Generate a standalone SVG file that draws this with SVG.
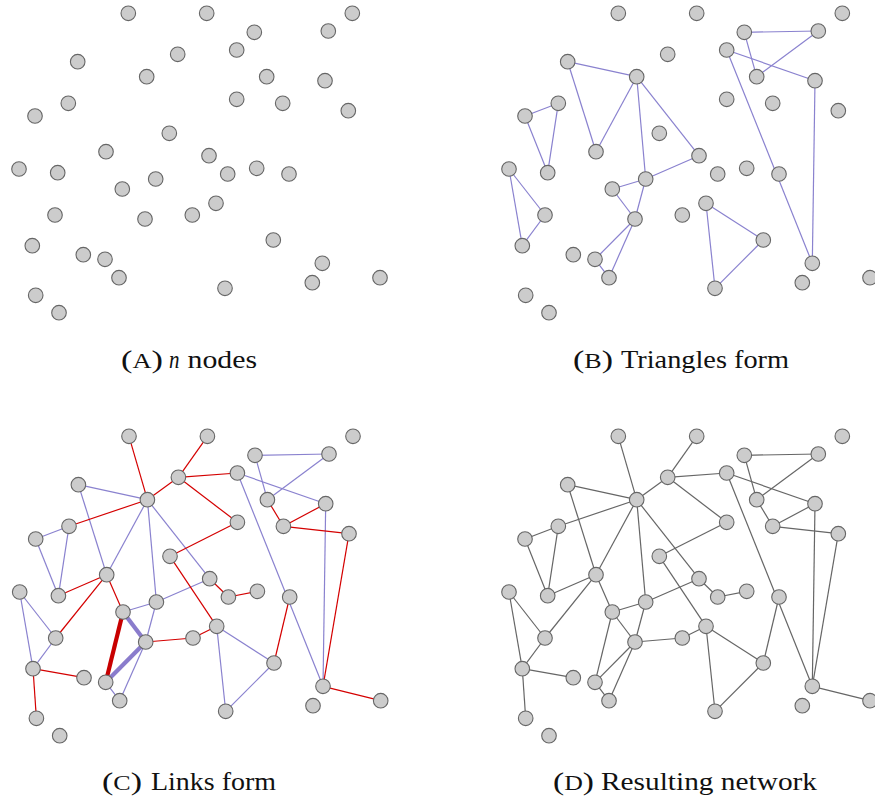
<svg xmlns="http://www.w3.org/2000/svg" width="875" height="803" viewBox="0 0 875 803">
<style>
.nd{fill:#cccccc;stroke:#666666;stroke-width:1.1}
.tri line{stroke:#8a82cf;stroke-width:1.2}
.lnk line{stroke:#d40000;stroke-width:1.2}
.net line{stroke:#666666;stroke-width:1.2}
line.thp{stroke:#8a7ccc;stroke-width:4.2}
line.thr{stroke:#c80000;stroke-width:4.2}
.cap{font-family:"Liberation Serif","DejaVu Serif",serif;font-size:26px;fill:#111}
.sc{font-size:20px}
</style>
<rect width="875" height="803" fill="#ffffff"/>

<!-- Panel A -->
<g id="panelA">
<g id="a-n1"><circle class="nd" cx="128.3" cy="13.3" r="7.3"/></g>
<g id="a-n2"><circle class="nd" cx="206.7" cy="13.3" r="7.3"/></g>
<g id="a-n3"><circle class="nd" cx="352.3" cy="13.3" r="7.3"/></g>
<g id="a-n4"><circle class="nd" cx="254.3" cy="32.3" r="7.3"/></g>
<g id="a-n5"><circle class="nd" cx="328.3" cy="31" r="7.3"/></g>
<g id="a-n6"><circle class="nd" cx="236.7" cy="50" r="7.3"/></g>
<g id="a-n7"><circle class="nd" cx="177.7" cy="54.3" r="7.3"/></g>
<g id="a-n8"><circle class="nd" cx="77.7" cy="61.7" r="7.3"/></g>
<g id="a-n9"><circle class="nd" cx="146.7" cy="76.7" r="7.3"/></g>
<g id="a-n10"><circle class="nd" cx="266.7" cy="76.7" r="7.3"/></g>
<g id="a-n11"><circle class="nd" cx="325" cy="80.7" r="7.3"/></g>
<g id="a-n12"><circle class="nd" cx="68.3" cy="103.3" r="7.3"/></g>
<g id="a-n13"><circle class="nd" cx="35" cy="116" r="7.3"/></g>
<g id="a-n14"><circle class="nd" cx="236.7" cy="99.3" r="7.3"/></g>
<g id="a-n15"><circle class="nd" cx="282.7" cy="103.3" r="7.3"/></g>
<g id="a-n16"><circle class="nd" cx="348.3" cy="110.7" r="7.3"/></g>
<g id="a-n17"><circle class="nd" cx="169.3" cy="133.3" r="7.3"/></g>
<g id="a-n18"><circle class="nd" cx="106" cy="151.7" r="7.3"/></g>
<g id="a-n19"><circle class="nd" cx="209" cy="155.7" r="7.3"/></g>
<g id="a-n20"><circle class="nd" cx="19" cy="169" r="7.3"/></g>
<g id="a-n21"><circle class="nd" cx="57.7" cy="172.7" r="7.3"/></g>
<g id="a-n22"><circle class="nd" cx="227.7" cy="174" r="7.3"/></g>
<g id="a-n23"><circle class="nd" cx="256.7" cy="168.3" r="7.3"/></g>
<g id="a-n24"><circle class="nd" cx="289" cy="174" r="7.3"/></g>
<g id="a-n25"><circle class="nd" cx="122.3" cy="189" r="7.3"/></g>
<g id="a-n26"><circle class="nd" cx="155.7" cy="179" r="7.3"/></g>
<g id="a-n27"><circle class="nd" cx="55" cy="215" r="7.3"/></g>
<g id="a-n28"><circle class="nd" cx="145" cy="219" r="7.3"/></g>
<g id="a-n29"><circle class="nd" cx="192.3" cy="215" r="7.3"/></g>
<g id="a-n30"><circle class="nd" cx="216" cy="203.3" r="7.3"/></g>
<g id="a-n31"><circle class="nd" cx="32.3" cy="245.7" r="7.3"/></g>
<g id="a-n32"><circle class="nd" cx="83.3" cy="254.7" r="7.3"/></g>
<g id="a-n33"><circle class="nd" cx="105" cy="259.3" r="7.3"/></g>
<g id="a-n34"><circle class="nd" cx="273.3" cy="240" r="7.3"/></g>
<g id="a-n35"><circle class="nd" cx="119" cy="277.7" r="7.3"/></g>
<g id="a-n36"><circle class="nd" cx="322.3" cy="263.3" r="7.3"/></g>
<g id="a-n37"><circle class="nd" cx="225" cy="288.3" r="7.3"/></g>
<g id="a-n38"><circle class="nd" cx="312.3" cy="282.7" r="7.3"/></g>
<g id="a-n39"><circle class="nd" cx="380" cy="277.7" r="7.3"/></g>
<g id="a-n40"><circle class="nd" cx="35.7" cy="295.3" r="7.3"/></g>
<g id="a-n41"><circle class="nd" cx="59" cy="312.7" r="7.3"/></g>
</g>

<!-- Panel B -->
<g id="panelB" transform="translate(490,0)">
<g id="b-edges" class="tri">
<line x1="77.7" y1="61.7" x2="146.7" y2="76.7"/>
<line x1="77.7" y1="61.7" x2="106" y2="151.7"/>
<line x1="146.7" y1="76.7" x2="106" y2="151.7"/>
<line x1="146.7" y1="76.7" x2="155.7" y2="179"/>
<line x1="146.7" y1="76.7" x2="209" y2="155.7"/>
<line x1="155.7" y1="179" x2="209" y2="155.7"/>
<line x1="68.3" y1="103.3" x2="35" y2="116"/>
<line x1="35" y1="116" x2="57.7" y2="172.7"/>
<line x1="68.3" y1="103.3" x2="57.7" y2="172.7"/>
<line x1="254.3" y1="32.3" x2="328.3" y2="31"/>
<line x1="254.3" y1="32.3" x2="266.7" y2="76.7"/>
<line x1="328.3" y1="31" x2="266.7" y2="76.7"/>
<line x1="236.7" y1="50" x2="325" y2="80.7"/>
<line x1="236.7" y1="50" x2="322.3" y2="263.3"/>
<line x1="325" y1="80.7" x2="322.3" y2="263.3"/>
<line x1="19" y1="169" x2="55" y2="215"/>
<line x1="19" y1="169" x2="32.3" y2="245.7"/>
<line x1="55" y1="215" x2="32.3" y2="245.7"/>
<line x1="122.3" y1="189" x2="155.7" y2="179"/>
<line x1="122.3" y1="189" x2="145" y2="219"/>
<line x1="155.7" y1="179" x2="145" y2="219"/>
<line x1="145" y1="219" x2="105" y2="259.3"/>
<line x1="145" y1="219" x2="119" y2="277.7"/>
<line x1="105" y1="259.3" x2="119" y2="277.7"/>
<line x1="216" y1="203.3" x2="273.3" y2="240"/>
<line x1="216" y1="203.3" x2="225" y2="288.3"/>
<line x1="273.3" y1="240" x2="225" y2="288.3"/>
</g>
<g id="b-n1"><circle class="nd" cx="128.3" cy="13.3" r="7.3"/></g>
<g id="b-n2"><circle class="nd" cx="206.7" cy="13.3" r="7.3"/></g>
<g id="b-n3"><circle class="nd" cx="352.3" cy="13.3" r="7.3"/></g>
<g id="b-n4"><circle class="nd" cx="254.3" cy="32.3" r="7.3"/></g>
<g id="b-n5"><circle class="nd" cx="328.3" cy="31" r="7.3"/></g>
<g id="b-n6"><circle class="nd" cx="236.7" cy="50" r="7.3"/></g>
<g id="b-n7"><circle class="nd" cx="177.7" cy="54.3" r="7.3"/></g>
<g id="b-n8"><circle class="nd" cx="77.7" cy="61.7" r="7.3"/></g>
<g id="b-n9"><circle class="nd" cx="146.7" cy="76.7" r="7.3"/></g>
<g id="b-n10"><circle class="nd" cx="266.7" cy="76.7" r="7.3"/></g>
<g id="b-n11"><circle class="nd" cx="325" cy="80.7" r="7.3"/></g>
<g id="b-n12"><circle class="nd" cx="68.3" cy="103.3" r="7.3"/></g>
<g id="b-n13"><circle class="nd" cx="35" cy="116" r="7.3"/></g>
<g id="b-n14"><circle class="nd" cx="236.7" cy="99.3" r="7.3"/></g>
<g id="b-n15"><circle class="nd" cx="282.7" cy="103.3" r="7.3"/></g>
<g id="b-n16"><circle class="nd" cx="348.3" cy="110.7" r="7.3"/></g>
<g id="b-n17"><circle class="nd" cx="169.3" cy="133.3" r="7.3"/></g>
<g id="b-n18"><circle class="nd" cx="106" cy="151.7" r="7.3"/></g>
<g id="b-n19"><circle class="nd" cx="209" cy="155.7" r="7.3"/></g>
<g id="b-n20"><circle class="nd" cx="19" cy="169" r="7.3"/></g>
<g id="b-n21"><circle class="nd" cx="57.7" cy="172.7" r="7.3"/></g>
<g id="b-n22"><circle class="nd" cx="227.7" cy="174" r="7.3"/></g>
<g id="b-n23"><circle class="nd" cx="256.7" cy="168.3" r="7.3"/></g>
<g id="b-n24"><circle class="nd" cx="289" cy="174" r="7.3"/></g>
<g id="b-n25"><circle class="nd" cx="122.3" cy="189" r="7.3"/></g>
<g id="b-n26"><circle class="nd" cx="155.7" cy="179" r="7.3"/></g>
<g id="b-n27"><circle class="nd" cx="55" cy="215" r="7.3"/></g>
<g id="b-n28"><circle class="nd" cx="145" cy="219" r="7.3"/></g>
<g id="b-n29"><circle class="nd" cx="192.3" cy="215" r="7.3"/></g>
<g id="b-n30"><circle class="nd" cx="216" cy="203.3" r="7.3"/></g>
<g id="b-n31"><circle class="nd" cx="32.3" cy="245.7" r="7.3"/></g>
<g id="b-n32"><circle class="nd" cx="83.3" cy="254.7" r="7.3"/></g>
<g id="b-n33"><circle class="nd" cx="105" cy="259.3" r="7.3"/></g>
<g id="b-n34"><circle class="nd" cx="273.3" cy="240" r="7.3"/></g>
<g id="b-n35"><circle class="nd" cx="119" cy="277.7" r="7.3"/></g>
<g id="b-n36"><circle class="nd" cx="322.3" cy="263.3" r="7.3"/></g>
<g id="b-n37"><circle class="nd" cx="225" cy="288.3" r="7.3"/></g>
<g id="b-n38"><circle class="nd" cx="312.3" cy="282.7" r="7.3"/></g>
<g id="b-n39"><circle class="nd" cx="380" cy="277.7" r="7.3"/></g>
<g id="b-n40"><circle class="nd" cx="35.7" cy="295.3" r="7.3"/></g>
<g id="b-n41"><circle class="nd" cx="59" cy="312.7" r="7.3"/></g>
</g>

<!-- Panel C -->
<g id="panelC" transform="translate(0.7,423)">
<g id="c-edges">
<g class="tri">
<line x1="77.7" y1="61.7" x2="146.7" y2="76.7"/>
<line x1="77.7" y1="61.7" x2="106" y2="151.7"/>
<line x1="146.7" y1="76.7" x2="106" y2="151.7"/>
<line x1="146.7" y1="76.7" x2="155.7" y2="179"/>
<line x1="146.7" y1="76.7" x2="209" y2="155.7"/>
<line x1="155.7" y1="179" x2="209" y2="155.7"/>
<line x1="68.3" y1="103.3" x2="35" y2="116"/>
<line x1="35" y1="116" x2="57.7" y2="172.7"/>
<line x1="68.3" y1="103.3" x2="57.7" y2="172.7"/>
<line x1="254.3" y1="32.3" x2="328.3" y2="31"/>
<line x1="254.3" y1="32.3" x2="266.7" y2="76.7"/>
<line x1="328.3" y1="31" x2="266.7" y2="76.7"/>
<line x1="236.7" y1="50" x2="325" y2="80.7"/>
<line x1="236.7" y1="50" x2="322.3" y2="263.3"/>
<line x1="325" y1="80.7" x2="322.3" y2="263.3"/>
<line x1="19" y1="169" x2="55" y2="215"/>
<line x1="19" y1="169" x2="32.3" y2="245.7"/>
<line x1="55" y1="215" x2="32.3" y2="245.7"/>
<line x1="122.3" y1="189" x2="155.7" y2="179"/>
<line x1="155.7" y1="179" x2="145" y2="219"/>
<line x1="145" y1="219" x2="119" y2="277.7"/>
<line x1="105" y1="259.3" x2="119" y2="277.7"/>
<line x1="216" y1="203.3" x2="273.3" y2="240"/>
<line x1="216" y1="203.3" x2="225" y2="288.3"/>
<line x1="273.3" y1="240" x2="225" y2="288.3"/>
</g>
<g class="lnk">
<line x1="128.3" y1="13.3" x2="146.7" y2="76.7"/>
<line x1="206.7" y1="13.3" x2="177.7" y2="54.3"/>
<line x1="177.7" y1="54.3" x2="146.7" y2="76.7"/>
<line x1="177.7" y1="54.3" x2="236.7" y2="50"/>
<line x1="177.7" y1="54.3" x2="236.7" y2="99.3"/>
<line x1="236.7" y1="99.3" x2="169.3" y2="133.3"/>
<line x1="169.3" y1="133.3" x2="216" y2="203.3"/>
<line x1="146.7" y1="76.7" x2="68.3" y2="103.3"/>
<line x1="106" y1="151.7" x2="57.7" y2="172.7"/>
<line x1="106" y1="151.7" x2="55" y2="215"/>
<line x1="106" y1="151.7" x2="122.3" y2="189"/>
<line x1="145" y1="219" x2="192.3" y2="215"/>
<line x1="192.3" y1="215" x2="216" y2="203.3"/>
<line x1="209" y1="155.7" x2="227.7" y2="174"/>
<line x1="227.7" y1="174" x2="256.7" y2="168.3"/>
<line x1="289" y1="174" x2="273.3" y2="240"/>
<line x1="266.7" y1="76.7" x2="282.7" y2="103.3"/>
<line x1="282.7" y1="103.3" x2="325" y2="80.7"/>
<line x1="282.7" y1="103.3" x2="348.3" y2="110.7"/>
<line x1="348.3" y1="110.7" x2="322.3" y2="263.3"/>
<line x1="322.3" y1="263.3" x2="380" y2="277.7"/>
<line x1="32.3" y1="245.7" x2="83.3" y2="254.7"/>
<line x1="32.3" y1="245.7" x2="35.7" y2="295.3"/>
</g>
<line class="thp" x1="122.3" y1="189" x2="145" y2="219"/>
<line class="thp" x1="145" y1="219" x2="105" y2="259.3"/>
<line class="thr" x1="122.3" y1="189" x2="105" y2="259.3"/>
</g>
<g id="c-n1"><circle class="nd" cx="128.3" cy="13.3" r="7.3"/></g>
<g id="c-n2"><circle class="nd" cx="206.7" cy="13.3" r="7.3"/></g>
<g id="c-n3"><circle class="nd" cx="352.3" cy="13.3" r="7.3"/></g>
<g id="c-n4"><circle class="nd" cx="254.3" cy="32.3" r="7.3"/></g>
<g id="c-n5"><circle class="nd" cx="328.3" cy="31" r="7.3"/></g>
<g id="c-n6"><circle class="nd" cx="236.7" cy="50" r="7.3"/></g>
<g id="c-n7"><circle class="nd" cx="177.7" cy="54.3" r="7.3"/></g>
<g id="c-n8"><circle class="nd" cx="77.7" cy="61.7" r="7.3"/></g>
<g id="c-n9"><circle class="nd" cx="146.7" cy="76.7" r="7.3"/></g>
<g id="c-n10"><circle class="nd" cx="266.7" cy="76.7" r="7.3"/></g>
<g id="c-n11"><circle class="nd" cx="325" cy="80.7" r="7.3"/></g>
<g id="c-n12"><circle class="nd" cx="68.3" cy="103.3" r="7.3"/></g>
<g id="c-n13"><circle class="nd" cx="35" cy="116" r="7.3"/></g>
<g id="c-n14"><circle class="nd" cx="236.7" cy="99.3" r="7.3"/></g>
<g id="c-n15"><circle class="nd" cx="282.7" cy="103.3" r="7.3"/></g>
<g id="c-n16"><circle class="nd" cx="348.3" cy="110.7" r="7.3"/></g>
<g id="c-n17"><circle class="nd" cx="169.3" cy="133.3" r="7.3"/></g>
<g id="c-n18"><circle class="nd" cx="106" cy="151.7" r="7.3"/></g>
<g id="c-n19"><circle class="nd" cx="209" cy="155.7" r="7.3"/></g>
<g id="c-n20"><circle class="nd" cx="19" cy="169" r="7.3"/></g>
<g id="c-n21"><circle class="nd" cx="57.7" cy="172.7" r="7.3"/></g>
<g id="c-n22"><circle class="nd" cx="227.7" cy="174" r="7.3"/></g>
<g id="c-n23"><circle class="nd" cx="256.7" cy="168.3" r="7.3"/></g>
<g id="c-n24"><circle class="nd" cx="289" cy="174" r="7.3"/></g>
<g id="c-n25"><circle class="nd" cx="122.3" cy="189" r="7.3"/></g>
<g id="c-n26"><circle class="nd" cx="155.7" cy="179" r="7.3"/></g>
<g id="c-n27"><circle class="nd" cx="55" cy="215" r="7.3"/></g>
<g id="c-n28"><circle class="nd" cx="145" cy="219" r="7.3"/></g>
<g id="c-n29"><circle class="nd" cx="192.3" cy="215" r="7.3"/></g>
<g id="c-n30"><circle class="nd" cx="216" cy="203.3" r="7.3"/></g>
<g id="c-n31"><circle class="nd" cx="32.3" cy="245.7" r="7.3"/></g>
<g id="c-n32"><circle class="nd" cx="83.3" cy="254.7" r="7.3"/></g>
<g id="c-n33"><circle class="nd" cx="105" cy="259.3" r="7.3"/></g>
<g id="c-n34"><circle class="nd" cx="273.3" cy="240" r="7.3"/></g>
<g id="c-n35"><circle class="nd" cx="119" cy="277.7" r="7.3"/></g>
<g id="c-n36"><circle class="nd" cx="322.3" cy="263.3" r="7.3"/></g>
<g id="c-n37"><circle class="nd" cx="225" cy="288.3" r="7.3"/></g>
<g id="c-n38"><circle class="nd" cx="312.3" cy="282.7" r="7.3"/></g>
<g id="c-n39"><circle class="nd" cx="380" cy="277.7" r="7.3"/></g>
<g id="c-n40"><circle class="nd" cx="35.7" cy="295.3" r="7.3"/></g>
<g id="c-n41"><circle class="nd" cx="59" cy="312.7" r="7.3"/></g>
</g>

<!-- Panel D -->
<g id="panelD" transform="translate(490,423)">
<g id="d-edges" class="net">
<line x1="77.7" y1="61.7" x2="146.7" y2="76.7"/>
<line x1="77.7" y1="61.7" x2="106" y2="151.7"/>
<line x1="146.7" y1="76.7" x2="106" y2="151.7"/>
<line x1="146.7" y1="76.7" x2="155.7" y2="179"/>
<line x1="146.7" y1="76.7" x2="209" y2="155.7"/>
<line x1="155.7" y1="179" x2="209" y2="155.7"/>
<line x1="68.3" y1="103.3" x2="35" y2="116"/>
<line x1="35" y1="116" x2="57.7" y2="172.7"/>
<line x1="68.3" y1="103.3" x2="57.7" y2="172.7"/>
<line x1="254.3" y1="32.3" x2="328.3" y2="31"/>
<line x1="254.3" y1="32.3" x2="266.7" y2="76.7"/>
<line x1="328.3" y1="31" x2="266.7" y2="76.7"/>
<line x1="236.7" y1="50" x2="325" y2="80.7"/>
<line x1="236.7" y1="50" x2="322.3" y2="263.3"/>
<line x1="325" y1="80.7" x2="322.3" y2="263.3"/>
<line x1="19" y1="169" x2="55" y2="215"/>
<line x1="19" y1="169" x2="32.3" y2="245.7"/>
<line x1="55" y1="215" x2="32.3" y2="245.7"/>
<line x1="122.3" y1="189" x2="155.7" y2="179"/>
<line x1="122.3" y1="189" x2="145" y2="219"/>
<line x1="155.7" y1="179" x2="145" y2="219"/>
<line x1="145" y1="219" x2="105" y2="259.3"/>
<line x1="145" y1="219" x2="119" y2="277.7"/>
<line x1="105" y1="259.3" x2="119" y2="277.7"/>
<line x1="216" y1="203.3" x2="273.3" y2="240"/>
<line x1="216" y1="203.3" x2="225" y2="288.3"/>
<line x1="273.3" y1="240" x2="225" y2="288.3"/>
<line x1="128.3" y1="13.3" x2="146.7" y2="76.7"/>
<line x1="206.7" y1="13.3" x2="177.7" y2="54.3"/>
<line x1="177.7" y1="54.3" x2="146.7" y2="76.7"/>
<line x1="177.7" y1="54.3" x2="236.7" y2="50"/>
<line x1="177.7" y1="54.3" x2="236.7" y2="99.3"/>
<line x1="236.7" y1="99.3" x2="169.3" y2="133.3"/>
<line x1="169.3" y1="133.3" x2="216" y2="203.3"/>
<line x1="146.7" y1="76.7" x2="68.3" y2="103.3"/>
<line x1="106" y1="151.7" x2="57.7" y2="172.7"/>
<line x1="106" y1="151.7" x2="55" y2="215"/>
<line x1="106" y1="151.7" x2="122.3" y2="189"/>
<line x1="122.3" y1="189" x2="105" y2="259.3"/>
<line x1="145" y1="219" x2="192.3" y2="215"/>
<line x1="192.3" y1="215" x2="216" y2="203.3"/>
<line x1="209" y1="155.7" x2="227.7" y2="174"/>
<line x1="227.7" y1="174" x2="256.7" y2="168.3"/>
<line x1="289" y1="174" x2="273.3" y2="240"/>
<line x1="266.7" y1="76.7" x2="282.7" y2="103.3"/>
<line x1="282.7" y1="103.3" x2="325" y2="80.7"/>
<line x1="282.7" y1="103.3" x2="348.3" y2="110.7"/>
<line x1="348.3" y1="110.7" x2="322.3" y2="263.3"/>
<line x1="322.3" y1="263.3" x2="380" y2="277.7"/>
<line x1="32.3" y1="245.7" x2="83.3" y2="254.7"/>
<line x1="32.3" y1="245.7" x2="35.7" y2="295.3"/>
</g>
<g id="d-n1"><circle class="nd" cx="128.3" cy="13.3" r="7.3"/></g>
<g id="d-n2"><circle class="nd" cx="206.7" cy="13.3" r="7.3"/></g>
<g id="d-n3"><circle class="nd" cx="352.3" cy="13.3" r="7.3"/></g>
<g id="d-n4"><circle class="nd" cx="254.3" cy="32.3" r="7.3"/></g>
<g id="d-n5"><circle class="nd" cx="328.3" cy="31" r="7.3"/></g>
<g id="d-n6"><circle class="nd" cx="236.7" cy="50" r="7.3"/></g>
<g id="d-n7"><circle class="nd" cx="177.7" cy="54.3" r="7.3"/></g>
<g id="d-n8"><circle class="nd" cx="77.7" cy="61.7" r="7.3"/></g>
<g id="d-n9"><circle class="nd" cx="146.7" cy="76.7" r="7.3"/></g>
<g id="d-n10"><circle class="nd" cx="266.7" cy="76.7" r="7.3"/></g>
<g id="d-n11"><circle class="nd" cx="325" cy="80.7" r="7.3"/></g>
<g id="d-n12"><circle class="nd" cx="68.3" cy="103.3" r="7.3"/></g>
<g id="d-n13"><circle class="nd" cx="35" cy="116" r="7.3"/></g>
<g id="d-n14"><circle class="nd" cx="236.7" cy="99.3" r="7.3"/></g>
<g id="d-n15"><circle class="nd" cx="282.7" cy="103.3" r="7.3"/></g>
<g id="d-n16"><circle class="nd" cx="348.3" cy="110.7" r="7.3"/></g>
<g id="d-n17"><circle class="nd" cx="169.3" cy="133.3" r="7.3"/></g>
<g id="d-n18"><circle class="nd" cx="106" cy="151.7" r="7.3"/></g>
<g id="d-n19"><circle class="nd" cx="209" cy="155.7" r="7.3"/></g>
<g id="d-n20"><circle class="nd" cx="19" cy="169" r="7.3"/></g>
<g id="d-n21"><circle class="nd" cx="57.7" cy="172.7" r="7.3"/></g>
<g id="d-n22"><circle class="nd" cx="227.7" cy="174" r="7.3"/></g>
<g id="d-n23"><circle class="nd" cx="256.7" cy="168.3" r="7.3"/></g>
<g id="d-n24"><circle class="nd" cx="289" cy="174" r="7.3"/></g>
<g id="d-n25"><circle class="nd" cx="122.3" cy="189" r="7.3"/></g>
<g id="d-n26"><circle class="nd" cx="155.7" cy="179" r="7.3"/></g>
<g id="d-n27"><circle class="nd" cx="55" cy="215" r="7.3"/></g>
<g id="d-n28"><circle class="nd" cx="145" cy="219" r="7.3"/></g>
<g id="d-n29"><circle class="nd" cx="192.3" cy="215" r="7.3"/></g>
<g id="d-n30"><circle class="nd" cx="216" cy="203.3" r="7.3"/></g>
<g id="d-n31"><circle class="nd" cx="32.3" cy="245.7" r="7.3"/></g>
<g id="d-n32"><circle class="nd" cx="83.3" cy="254.7" r="7.3"/></g>
<g id="d-n33"><circle class="nd" cx="105" cy="259.3" r="7.3"/></g>
<g id="d-n34"><circle class="nd" cx="273.3" cy="240" r="7.3"/></g>
<g id="d-n35"><circle class="nd" cx="119" cy="277.7" r="7.3"/></g>
<g id="d-n36"><circle class="nd" cx="322.3" cy="263.3" r="7.3"/></g>
<g id="d-n37"><circle class="nd" cx="225" cy="288.3" r="7.3"/></g>
<g id="d-n38"><circle class="nd" cx="312.3" cy="282.7" r="7.3"/></g>
<g id="d-n39"><circle class="nd" cx="380" cy="277.7" r="7.3"/></g>
<g id="d-n40"><circle class="nd" cx="35.7" cy="295.3" r="7.3"/></g>
<g id="d-n41"><circle class="nd" cx="59" cy="312.7" r="7.3"/></g>
</g>

<!-- Captions -->
<g id="captions" class="cap">
<text x="121" y="368" textLength="42" lengthAdjust="spacingAndGlyphs">(<tspan class="sc">A</tspan>)</text>
<text x="169" y="368" font-style="italic" textLength="10.5" lengthAdjust="spacingAndGlyphs">n</text>
<text x="187.5" y="368" textLength="69.5" lengthAdjust="spacingAndGlyphs">nodes</text>
<text x="573" y="368" textLength="40" lengthAdjust="spacingAndGlyphs">(<tspan class="sc">B</tspan>)</text>
<text x="621" y="368" textLength="168" lengthAdjust="spacingAndGlyphs">Triangles form</text>
<text x="102" y="790" textLength="40" lengthAdjust="spacingAndGlyphs">(<tspan class="sc">C</tspan>)</text>
<text x="151" y="790" textLength="125" lengthAdjust="spacingAndGlyphs">Links form</text>
<text x="553" y="790" textLength="41" lengthAdjust="spacingAndGlyphs">(<tspan class="sc">D</tspan>)</text>
<text x="601" y="790" textLength="216" lengthAdjust="spacingAndGlyphs">Resulting network</text>
</g>
</svg>
